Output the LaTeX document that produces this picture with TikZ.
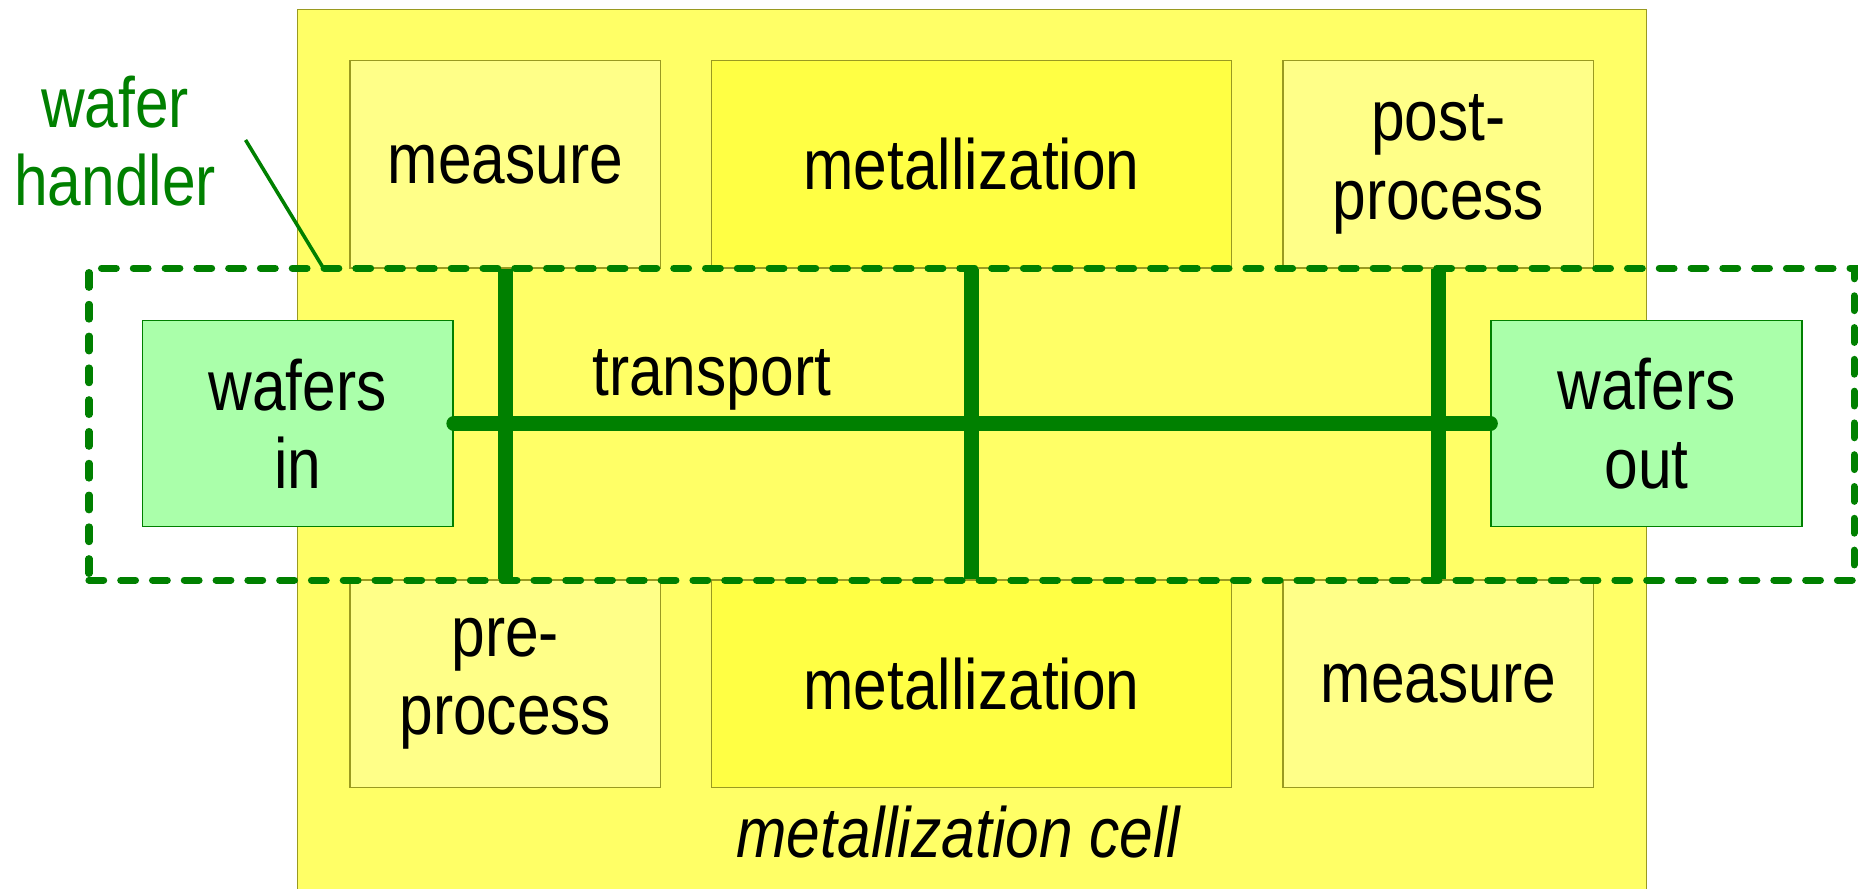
\documentclass[tikz,border=0pt]{standalone}
\usepackage{fontspec}
\setmainfont{Liberation Sans}[FakeStretch=0.85]
\definecolor{cellfill}{HTML}{FFFF66}
\definecolor{palefill}{HTML}{FFFF88}
\definecolor{metalfill}{HTML}{FFFF44}
\definecolor{waferfill}{HTML}{AAFFAA}
\definecolor{olive}{HTML}{9A9A20}
\definecolor{handgreen}{HTML}{008000}

\tikzset{every picture/.style={line width=0.75pt}}
\tikzset{
  station/.style={draw=olive, line width=0.6pt, fill=palefill, inner sep=0pt,
    minimum width=131pt, minimum height=87.5pt, align=center,
    font=\fontsize{30}{33}\selectfont},
  metalbox/.style={station, fill=metalfill, minimum width=219pt},
  waferbox/.style={station, draw=handgreen, fill=waferfill, minimum height=87pt},
  rail/.style={draw=handgreen, line width=6.3pt},
  label/.style={inner sep=0pt, align=center, font=\fontsize{30}{33}\selectfont}
}

\begin{document}
\begin{tikzpicture}[x=0.5pt,y=0.5pt,yscale=-1,xscale=1]
\useasboundingbox (0,0) rectangle (1568,749);

%Shape: Rectangle [id:cell]
\draw [draw=olive, line width=0.6pt, fill=cellfill] (251,8) rectangle (1388,770) ;

%Shape: Rectangle [id:top row]
\draw (426,138.5) node [station] (meastop) {measure};
\draw (819,138.5) node [metalbox] (metaltop) {metallization};
\draw (1212.5,138.5) node [station] (post) {post-\\process};
%Shape: Rectangle [id:bottom row]
\draw (426,576.5) node [station] (pre) {pre-\\process};
\draw (819,576.5) node [metalbox] (metalbot) {metallization};
\draw (1212.5,576.5) node [station] (measbot) {measure};

%Shape: Rectangle [id:wafer handler]
\draw (819,357.5) node [draw=handgreen, line width=3pt, dash pattern=on 6.2pt off 7.2pt,
  line cap=round, minimum width=744pt, minimum height=131.5pt, inner sep=0pt] (handler) {};

%Shape: Rectangle [id:wafers]
\draw (251,357) node [waferbox] (win) {wafers\\in};
\draw (1388,357) node [waferbox] (wout) {wafers\\out};

%Straight Lines [id:rails]
\draw [rail] (meastop.south) -- (pre.north) ;
\draw [rail] (metaltop.south) -- (metalbot.north) ;
\draw [rail] (post.south) -- (measbot.north) ;
\draw [rail, line cap=round] (win.east) -- (wout.west) ;

%Straight Lines [id:leader]
\coordinate (leadstart) at (207,118);
\coordinate (leadend) at (272,225);
\draw [handgreen, line width=1.5pt] (leadstart) -- (leadend) ;

% Text Node
\draw (600,333) node [label, anchor=base] (transport) {transport};
% Text Node
\draw (97,119) node [label, text=handgreen] (handlertext) {wafer\\handler};
% Text Node
\draw (808,723) node [label, anchor=base] (celltext) {\itshape metallization cell};

\end{tikzpicture}
\end{document}
